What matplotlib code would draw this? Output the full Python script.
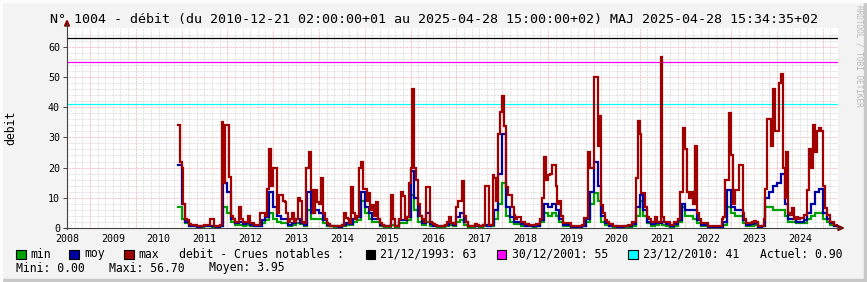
import numpy as np
import matplotlib
matplotlib.use('Agg')
import matplotlib.pyplot as plt
from matplotlib.patches import Rectangle, Polygon
from matplotlib.lines import Line2D

# first value = June 2010
START_YEAR = 2010
START_MONTH = 6

# max: two values per month (1st / 2nd half)
debit_max = [
    34, 22, 20, 8, 3, 2.5, 1.2, 1.0, 1.0, 1.0, 0.6, 0.5, 0.8, 0.8,                            # 2010
    1, 1, 1, 3, 3, 0.8, 0.6, 0.5, 1, 35, 15, 34, 34, 17, 4, 3, 2.1, 2, 7, 3, 2.1, 2, 2, 4,      # 2011
    1.5, 1.5, 1, 1, 1, 4.9, 4.9, 4.9, 4, 13, 26, 14, 20, 20, 5, 11, 11, 9, 8.7, 5, 2, 3, 5, 2,  # 2012
    3, 10, 9, 2, 1.5, 20, 20, 25, 12.6, 5, 12.6, 8.6, 8, 16.7, 5, 3, 1.5, 1.2, 0.8, 0.8,
    0.8, 0.8, 0.6, 0.6,                                                                         # 2013
    1, 5, 3.3, 3, 1.5, 13.7, 5, 3, 4, 20, 22, 13, 13, 9, 11.7, 6, 7.5, 4, 8.6, 3, 1.5, 1,
    0.8, 0.8,                                                                                   # 2014
    0.7, 0.7, 11, 3, 0.8, 0.8, 3, 12, 10.6, 3, 3.8, 15, 20, 46, 20, 16, 8, 4, 3, 2,
    13.5, 13.5, 2, 1.5,                                                                         # 2015
    1.2, 1, 0.7, 0.7, 0.7, 0.7, 1, 2, 3.5, 1.5, 1.5, 1.2, 7, 9, 9, 15.7, 4, 2, 0.8, 0.8,
    0.8, 0.8, 1.2, 1,                                                                           # 2016
    0.8, 0.8, 1, 14, 14, 1, 1, 17.5, 16.4, 9, 31, 38.5, 43.8, 33.7, 13.7, 11, 11, 7, 4.3, 3,
    3.8, 3.8, 2.1, 2.1,                                                                         # 2017
    1.3, 1.3, 1, 1, 0.9, 0.9, 1.2, 1.2, 3, 9.8, 23.6, 16, 17.5, 18, 21, 21, 14, 8, 9, 4,
    1.5, 1.5, 1.5, 1.5,                                                                         # 2018
    0.5, 0.5, 0.5, 0.5, 0.5, 0.5, 1, 3.3, 3.3, 25, 20, 20, 50, 50, 27, 37, 7.5, 5, 2.7, 2,
    1.3, 1.3, 0.8, 0.8,                                                                         # 2019
    0.6, 0.6, 0.6, 0.6, 0.8, 0.8, 1, 1, 2, 2, 16.7, 35.4, 31, 11.7, 11.7, 7, 3.8, 3, 2, 2,
    3.8, 2, 2, 56.7,                                                                            # 2020
    3.8, 2, 2, 2, 1, 1, 2, 2, 3, 12, 12, 33, 26, 12, 10, 12, 8, 27, 5, 3, 1.5, 1.5, 1.5, 1.5,  # 2021
    0.6, 0.6, 0.6, 0.6, 0.6, 0.6, 0.6, 3, 3.8, 16, 16, 38, 24, 8, 12.7, 12.7, 20.8, 20.8,
    5, 3, 1.5, 1.5, 1.5, 2,                                                                     # 2022
    2.4, 2, 0.6, 0.6, 0.8, 3, 13, 36, 36, 27, 46, 32, 32, 48, 51, 20, 10, 25, 5, 4.3,
    6.5, 3, 3.8, 3,                                                                             # 2023
    3.3, 3.3, 4.3, 4.3, 12.7, 26, 19.8, 34, 25, 32, 33, 32, 14, 6.5, 4.3, 4.3, 2, 2, 0.9, 0.9,  # 2024
]
# moy / min: one value per month
debit_moy = [
    21, 8, 2, 0.7, 0.7, 0.3, 0.5,
    0.7, 0.8, 0.5, 0.3, 0.8, 15, 12, 3, 1.5, 2, 1.2, 1.5,
    1, 0.7, 0.8, 2.5, 3.5, 12, 7, 4, 3, 3, 1, 1.5,
    3, 1.8, 1, 12, 5, 6, 5, 2.5, 1, 0.6, 0.5, 0.4,
    0.9, 1.5, 1.4, 3, 3.5, 12, 7, 5, 3, 3, 1, 0.5,
    0.5, 3, 0.5, 2.5, 2.5, 3.5, 19, 10, 4, 1.5, 5, 1.2,
    0.8, 0.5, 0.5, 1, 1.5, 1, 3.5, 5, 2, 0.5, 0.5, 0.7,
    0.5, 1, 0.7, 1, 6, 18, 31, 7, 3.5, 2, 2, 1.2,
    0.8, 0.6, 0.5, 0.8, 2.5, 8, 7, 8, 6, 3, 1, 1,
    0.3, 0.3, 0.3, 0.8, 3, 12, 22, 14, 4, 1.5, 0.8, 0.5,
    0.4, 0.4, 0.5, 0.6, 1.2, 7, 11, 6, 2, 1.2, 1.5, 1.8,
    2, 1.2, 0.6, 1.2, 2.5, 8, 6, 6, 6, 2.5, 1, 1,
    0.4, 0.4, 0.4, 0.4, 2, 12.6, 7, 6, 6, 2.5, 1, 1.2,
    1.5, 0.4, 0.7, 10, 12, 14, 15, 18, 8, 3, 3, 2,
    2, 2.5, 5, 8, 12, 13, 5, 3, 1.5, 0.8,
]
debit_min = [
    7, 3, 1.5, 0.5, 0.5, 0.2, 0.3,
    0.5, 0.6, 0.3, 0.2, 0.5, 7, 5, 2, 1, 1, 0.8, 1,
    0.7, 0.5, 0.6, 1.5, 2.5, 5, 3, 2, 1.5, 1.5, 0.8, 1,
    1.5, 1.2, 0.7, 6, 3, 3, 3, 1.5, 0.8, 0.5, 0.4, 0.3,
    0.7, 1, 1.1, 2, 2.5, 9, 5, 3, 2, 2, 0.8, 0.4,
    0.4, 1, 0.4, 1.8, 1.8, 2.5, 11, 6, 2, 1, 2, 0.8,
    0.5, 0.4, 0.4, 0.6, 1, 0.7, 2, 2.5, 1, 0.4, 0.4, 0.5,
    0.4, 0.8, 0.5, 0.8, 3, 8, 15, 4, 2, 1.2, 1.2, 0.8,
    0.6, 0.5, 0.4, 0.6, 2, 5, 4, 5, 4, 2, 0.8, 0.8,
    0.2, 0.2, 0.2, 0.6, 2, 8, 11.5, 9, 2, 1, 0.5, 0.4,
    0.3, 0.3, 0.3, 0.4, 0.8, 4, 9, 4, 1.5, 0.8, 1, 1.5,
    1, 0.8, 0.4, 0.8, 2, 7, 4, 4, 3, 1.5, 0.7, 0.7,
    0.3, 0.3, 0.3, 0.3, 1, 7, 5, 4, 4, 1.5, 0.7, 0.8,
    1, 0.3, 0.5, 7, 7, 6, 6, 6, 4, 2, 2, 1.5,
    1.5, 1.5, 3, 4, 5, 5, 3, 2, 1, 0.6,
]

# seuils "crues notables"
crue_labels = ['21/12/1993: 63', '30/12/2001: 55', '23/12/2010: 41']
crue_values = [63, 55, 41]
crue_colors = ['#000000', '#ff00ff', '#00ffff']

year_labels = list(range(2008, 2025))
title = ('N° 1004 - débit (du 2010-12-21 02:00:00+01 au 2025-04-28 15:00:00+02) '
         'MAJ 2025-04-28 15:34:35+02')

W, H = 867, 282
def fx(px):
    return px / W
def fy(py):
    return 1 - py / H

plt.rcParams['font.family'] = 'DejaVu Sans Mono'

fig = plt.figure(figsize=(W / 100, H / 100), dpi=100, facecolor='#f3f3f3')

# rrdtool canvas frame
fig.add_artist(Rectangle((0, 0), 1, fy(279), transform=fig.transFigure, color='#c8c8c8', zorder=0))
fig.add_artist(Rectangle((fx(864), 0), fx(3), 1, transform=fig.transFigure, color='#c8c8c8', zorder=0))
fig.add_artist(Rectangle((0, fy(2)), 1, 2 / H, transform=fig.transFigure, color='#fcfcfc', zorder=0))
fig.add_artist(Rectangle((0, 0), fx(2), 1, transform=fig.transFigure, color='#fcfcfc', zorder=0))

ax = fig.add_axes([fx(67), fy(228), fx(838) - fx(67), (228 - 28) / H])
ax.set_facecolor('white')
x0, x1 = 2008, 2024 + 10 / 12
ax.set_xlim(x0, x1)
ax.set_ylim(0, 66.2)
for s in ax.spines.values():
    s.set_visible(False)

# grid
dot = (0, (0.72, 0.72))
minor_c, major_c = '#d8d8d8', '#f2b0b0'
for v in np.arange(2, 66, 2):
    if v % 10:
        ax.axhline(v, color=minor_c, lw=0.72, ls=dot, zorder=1)
for v in range(10, 70, 10):
    ax.axhline(v, color=major_c, lw=0.72, ls=dot, zorder=1)
for y in range(2007, 2025):
    for k in range(1, 6):
        xv = y + 0.5 + k / 6
        if x0 < xv < x1:
            ax.axvline(xv, color=minor_c, lw=0.72, ls=dot, zorder=1)
    if x0 < y + 0.5 < x1:
        ax.axvline(y + 0.5, color=major_c, lw=0.72, ls=dot, zorder=1)

# crues notables
for v, c in zip(crue_values, crue_colors):
    ax.axhline(v, color=c, lw=0.9, zorder=2)

# series as steps
def draw(vals, per_month, col):
    n = len(vals)
    t = START_YEAR + (START_MONTH - 1) / 12 + np.arange(n + 1) / (12 * per_month)
    ax.plot(t, np.append(vals, vals[-1]), drawstyle='steps-post', color=col, lw=1.6,
            zorder=3, solid_joinstyle='miter')

draw(debit_min, 1, '#00a000')
draw(debit_moy, 1, '#0000a0')
draw(debit_max, 2, '#a00000')

ax.set_xticks(year_labels)
ax.set_xticklabels([str(y) for y in year_labels], fontsize=7.2)
ax.tick_params(axis='x', length=0, pad=4)
ax.set_yticks(range(0, 70, 10))
ax.set_yticklabels([str(v) for v in range(0, 70, 10)], fontsize=7.2)
ax.tick_params(axis='y', length=3, width=0.7, pad=2, color='#404040')

# axes + arrows
fig.add_artist(Line2D([fx(67), fx(67)], [fy(229), fy(24)], transform=fig.transFigure, color='#404040', lw=0.8))
fig.add_artist(Line2D([fx(64), fx(840)], [fy(228), fy(228)], transform=fig.transFigure, color='#404040', lw=0.8))
fig.add_artist(Polygon([(fx(64.5), fy(26)), (fx(69.5), fy(26)), (fx(67), fy(20.5))],
                       transform=fig.transFigure, color='#800000'))
fig.add_artist(Polygon([(fx(838), fy(225.5)), (fx(838), fy(230.5)), (fx(843.5), fy(228))],
                       transform=fig.transFigure, color='#800000'))

fig.text(0.5, fy(19.5), title, ha='center', va='center', fontsize=9.6)
fig.text(fx(11), fy(127.5), 'debit', rotation=90, ha='center', va='center', fontsize=8.3)
fig.text(fx(858.5), fy(5), 'RRDTOOL / TOBI OETIKER', rotation=270, ha='center', va='top',
         fontsize=5.6, color='#b8b8b8')

# legend
def square(xl, col):
    fig.add_artist(Rectangle((fx(xl), fy(259)), 9.5 / W, 9.5 / H, transform=fig.transFigure,
                             facecolor=col, edgecolor='black', lw=0.8))

ly = fy(254)
fs = 8.3
square(16, '#00a000'); fig.text(fx(30), ly, 'min', va='center', fontsize=fs)
square(69, '#0000a0'); fig.text(fx(84), ly, 'moy', va='center', fontsize=fs)
square(124, '#a00000'); fig.text(fx(138.5), ly, 'max', va='center', fontsize=fs)
fig.text(fx(179), ly, 'debit - Crues notables :', va='center', fontsize=fs)
for xl, lab, col in zip([365.5, 496.5, 628], crue_labels, crue_colors):
    square(xl, col)
    fig.text(fx(xl + 15), ly, lab, va='center', fontsize=fs)
fig.text(fx(760), ly, 'Actuel: 0.90', va='center', fontsize=fs)

sy = fy(268)
fig.text(fx(16), sy, 'Mini: 0.00', va='center', fontsize=fs)
fig.text(fx(109), sy, 'Maxi: 56.70', va='center', fontsize=fs)
fig.text(fx(209), sy, 'Moyen: 3.95', va='center', fontsize=fs)

fig.savefig('out.png', dpi=100, facecolor=fig.get_facecolor())
